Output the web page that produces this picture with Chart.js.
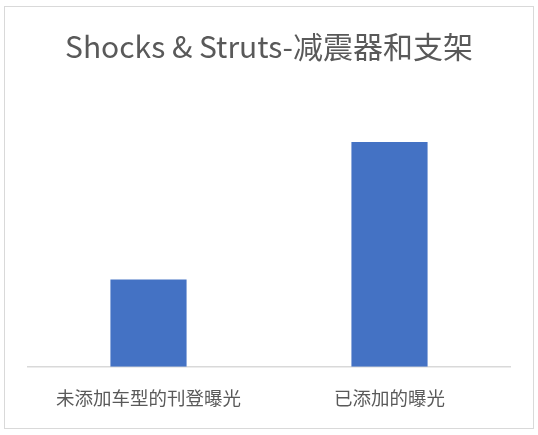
<!DOCTYPE html>
<html>
<head>
<meta charset="utf-8">
<script src="https://cdn.jsdelivr.net/npm/chart.js@4"></script>
<style>
  html, body { margin: 0; padding: 0; background: #fff; }
  #wrap { position: relative; width: 538px; height: 435px; }
  #frame { position: absolute; left: 4px; top: 6px; width: 528px; height: 421px; border: 1px solid #d9d9d9; pointer-events: none; }
  canvas { position: absolute; left: 0; top: 0; }
</style>
</head>
<body>
<div id="wrap">
  <canvas id="c" width="538" height="435"></canvas>
  <div id="frame"></div>
</div>
<script>
const titleText = "Shocks & Struts-减震器和支架";
const categories = ["未添加车型的刊登曝光", "已添加的曝光"];
const values = [38.5, 99.2];
const yMax = 120;

const fontFamily = "'Noto Sans CJK SC', 'Noto Sans', sans-serif";

new Chart(document.getElementById('c'), {
  type: 'bar',
  data: {
    labels: categories,
    datasets: [{
      data: values,
      backgroundColor: '#4472c4',
      borderWidth: 0,
      barPercentage: 1,
      categoryPercentage: 0.316
    }]
  },
  options: {
    responsive: false,
    animation: false,
    devicePixelRatio: 1,
    layout: { padding: { left: 28, right: 28, top: 0, bottom: 5 } },
    plugins: {
      legend: { display: false },
      tooltip: { enabled: false },
      title: {
        display: true,
        text: titleText,
        color: '#595959',
        font: { family: fontFamily, size: 30, weight: 'normal' },
        padding: { top: 29, bottom: 30 }
      }
    },
    scales: {
      x: {
        grid: { display: false, drawTicks: false },
        border: { display: true, color: '#d9d9d9', width: 1.5 },
        ticks: {
          color: '#595959',
          font: { family: fontFamily, size: 18.5 },
          padding: 20.5,
          maxRotation: 0,
          autoSkip: false
        }
      },
      y: {
        display: false,
        min: 0,
        max: yMax
      }
    }
  }
});
</script>
</body>
</html>
